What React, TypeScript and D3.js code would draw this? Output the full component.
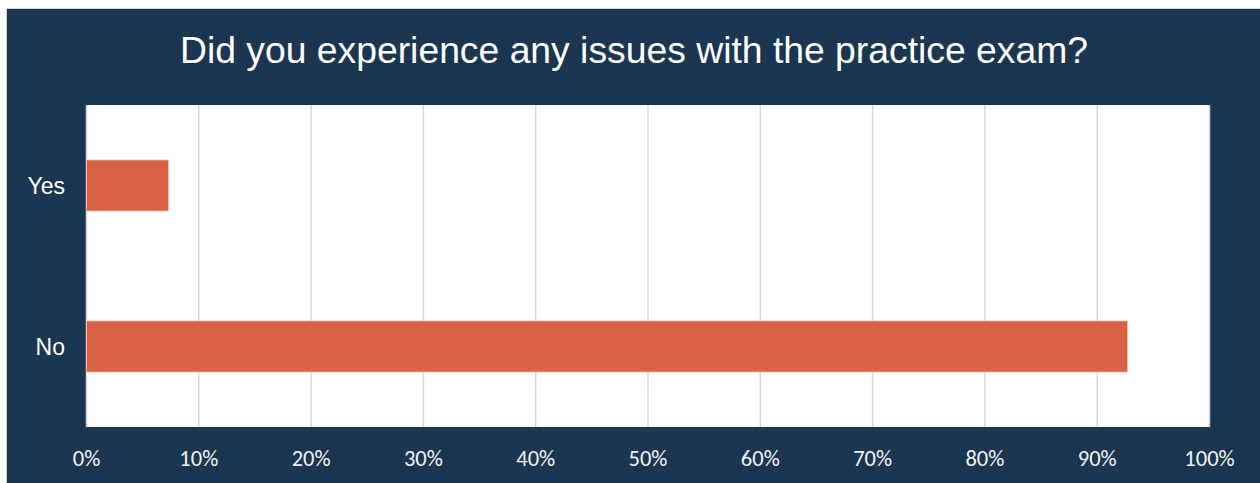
import React from "react";
import * as d3 from "d3";

const categories = ["Yes", "No"];
const values = [7.3, 92.7];
const tickValues = [0, 10, 20, 30, 40, 50, 60, 70, 80, 90, 100];
const title = "Did you experience any issues with the practice exam?";

export default function App() {
  const W = 1260, H = 483;
  const plot = { left: 86.5, right: 1209.5, top: 105, bottom: 427 };
  const x = d3.scaleLinear().domain([0, 100]).range([plot.left, plot.right]);
  const y = d3.scaleBand().domain(categories).range([plot.top, plot.bottom]).paddingInner(0.683).paddingOuter(0.3415);
  const navy = "#1A3650";
  return (
    <div style={{ position: "fixed", left: 0, top: 0 }}>
      <svg width={W} height={H} style={{ display: "block" }}>
        <rect x={0} y={0} width={W} height={H} fill="#ffffff" />
        <rect x={7} y={9} width={W - 7} height={H - 9} fill={navy} />
        <rect x={6.5} y={8.5} width={W - 6} height={H - 8} fill="none" stroke="#d0d0d0" strokeWidth={1} />
        <text x={634} y={63} textAnchor="middle" fill="#ffffff" fontFamily="'Liberation Sans', Arial, sans-serif" fontSize={37.3}>
          {title}
        </text>
        <rect x={plot.left} y={plot.top} width={plot.right - plot.left} height={plot.bottom - plot.top} fill="#ffffff" />
        {tickValues.map((t) => (
          <line key={t} x1={x(t)} x2={x(t)} y1={plot.top} y2={plot.bottom} stroke="#d9d9d9" strokeWidth={1.5} />
        ))}
        {categories.map((c, i) => (
          <rect key={c} x={x(0)} y={y(c)!} width={x(values[i]) - x(0)} height={y.bandwidth()} fill="#D96146" stroke="#f2c0b3" strokeWidth={0.75} />
        ))}
        {categories.map((c) => (
          <text key={c} x={65} y={y(c)! + y.bandwidth() / 2 + 8} textAnchor="end" fill="#ffffff" fontFamily="'Liberation Sans', Arial, sans-serif" fontSize={23}>
            {c}
          </text>
        ))}
        {tickValues.map((t) => (
          <text key={t} x={x(t)} y={466} textAnchor="middle" fill="#f2f2f2" fontFamily="Carlito, Lato, 'Open Sans', sans-serif" fontSize={22.5}>
            {t + "%"}
          </text>
        ))}
      </svg>
    </div>
  );
}
